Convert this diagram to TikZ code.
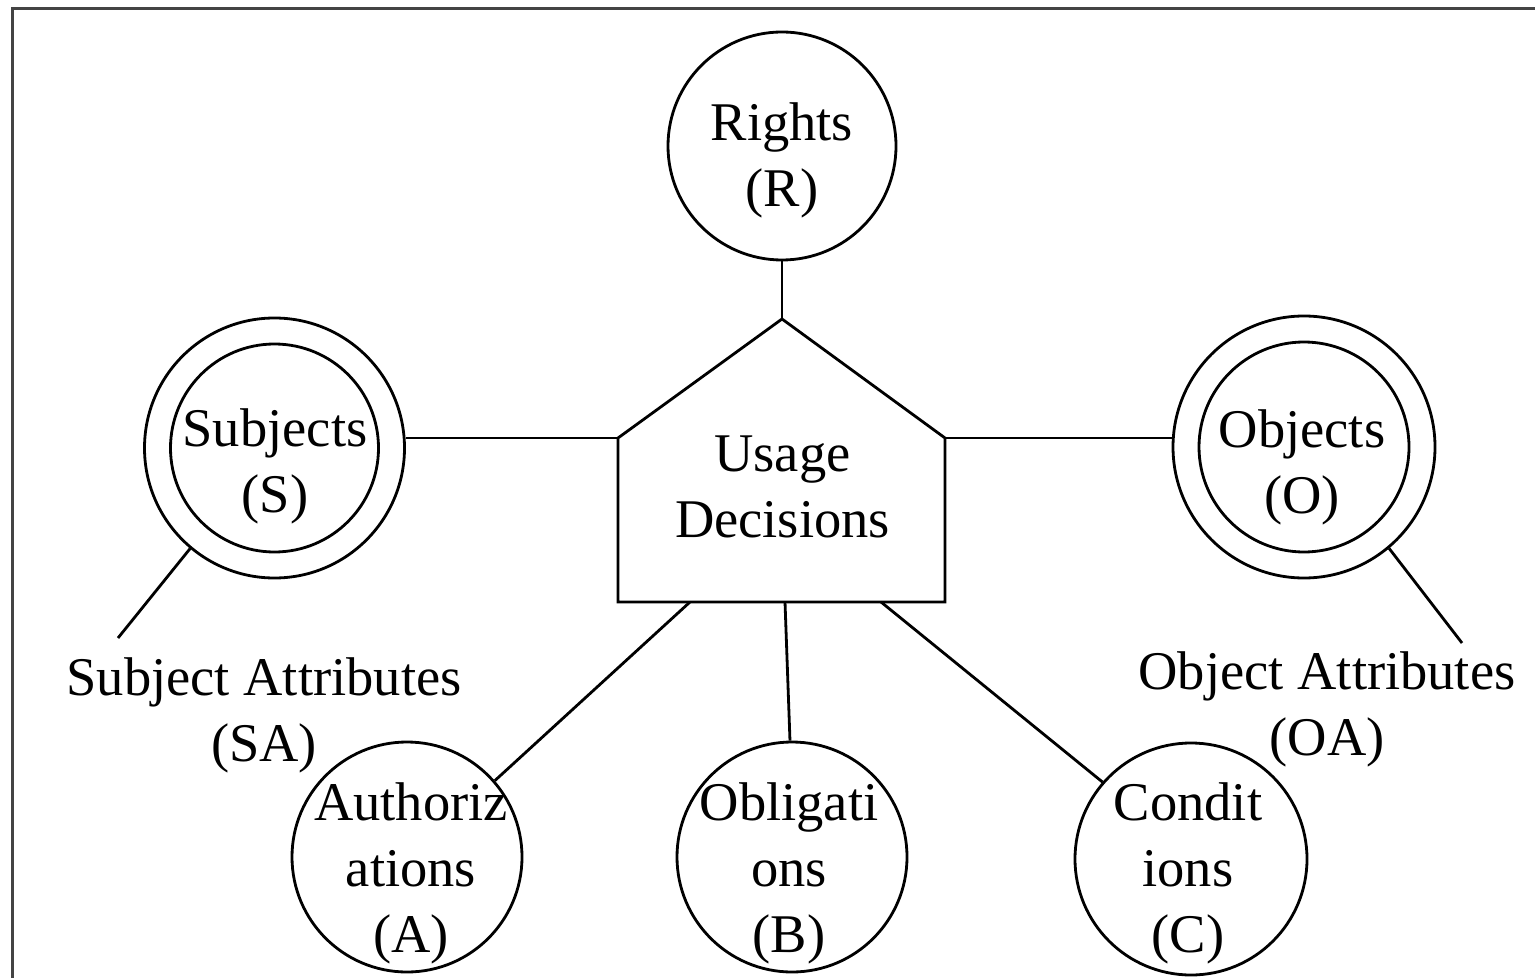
\documentclass[tikz,border=0pt]{standalone}
\usepackage{fontspec}
\setmainfont{Liberation Serif}
\definecolor{framegray}{RGB}{68,68,68}
\begin{document}
\begin{tikzpicture}[x=0.5pt,y=-0.5pt,
  line width=1.4pt,
  ring/.style={circle,draw,inner sep=0pt,minimum size=#1},
  label text/.style={align=center,anchor=base,inner sep=0pt,
    font=\fontsize{27.25pt}{33pt}\selectfont}]
\useasboundingbox (0,0) rectangle (1535,978);
% outer frame (runs off the right and bottom edges)
\draw[framegray,line width=1.5pt] (12,8.5) rectangle (1560,1000);

% usage decisions house
\coordinate (ud-bl) at (618,602);
\coordinate (ud-sl) at (618,438);
\coordinate (ud-top) at (782,319);
\coordinate (ud-sr) at (945,438);
\coordinate (ud-br) at (945,602);
\draw (ud-bl) -- (ud-sl) -- (ud-top) -- (ud-sr) -- (ud-br) -- cycle;
\node[label text] (ud) at (782.5,537) {Usage\\Decisions};
\coordinate (ud-a) at (690,602);
\coordinate (ud-b) at (785,602);
\coordinate (ud-c) at (881,602);

% rights
\node[ring=114pt] (R) at (782,146) {};
\node[label text] (Rt) at (782,207) {Rights\\(R)};

% subjects
\node[ring=130pt] (S) at (274.5,448) {};
\node[ring=104pt] (Si) at (274.5,448) {};
\node[label text] (St) at (275,512) {Subjects\\(S)};

% objects
\node[ring=131pt] (O) at (1304,447) {};
\node[ring=105pt] (Oi) at (1304,447) {};
\node[label text] (Ot) at (1302,513) {Objects\\(O)};

% attribute labels
\coordinate (sa-end) at (118,638);
\coordinate (oa-end) at (1462,643);
\node[label text] (SA) at (264,761) {Subject Attributes\\(SA)};
\node[label text] (OA) at (1327,755) {Object Attributes\\(OA)};

% lower circles
\node[ring=115pt] (A) at (407,857) {};
\node[label text] (At) at (411,952) {Authoriz\\ations\\(A)};
\node[ring=115pt] (B) at (792,857) {};
\node[label text] (Bt) at (789,952) {Obligati\\ons\\(B)};
\node[ring=116pt] (C) at (1191,859) {};
\node[label text] (Ct) at (1188,952) {Condit\\ions\\(C)};

% connectors
\draw (R.south) -- (ud-top);
\draw (ud-sl) -- (ud-sl -| S.east);
\draw (ud-sr) -- (ud-sr -| O.west);
\draw (S.230.5) -- (sa-end);
\draw (O.-50.6) -- (oa-end);
\draw (ud-a) -- (A.41.8);
\draw (ud-b) -- (B.91.5);
\draw (ud-c) -- (C.139.5);
\end{tikzpicture}
\end{document}
